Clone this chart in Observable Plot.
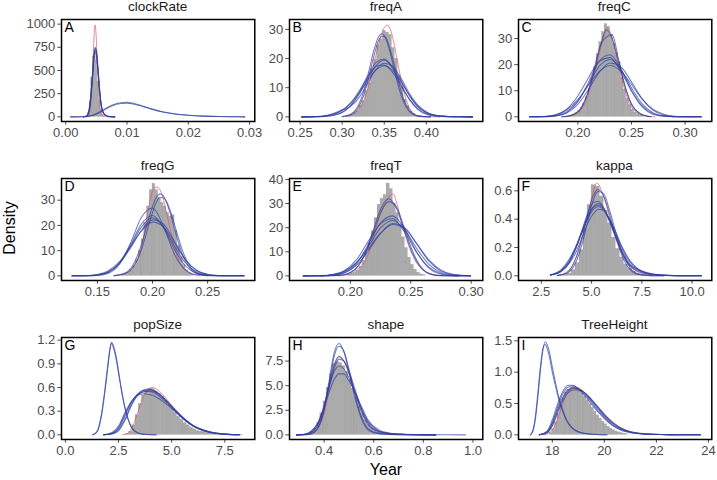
<!DOCTYPE html>
<html><head><meta charset="utf-8">
<script src="https://cdn.jsdelivr.net/npm/d3@7"></script>
<script src="https://cdn.jsdelivr.net/npm/@observablehq/plot@0.6"></script>
<style>
body{margin:0;background:#fff;}
#chart{position:relative;width:717px;height:480px;font-family:"Liberation Sans",Arial,Helvetica,sans-serif;overflow:hidden;}
#chart svg{position:absolute;overflow:visible;}
.title{position:absolute;font-size:13.5px;line-height:16px;color:#1a1a1a;text-align:center;}
.axt{position:absolute;font-size:16px;line-height:18px;color:#000;}
</style></head>
<body><div id="chart"></div>
<script>
// ---------- clockRate (A)
const clockRateHistLo = 0.0034, clockRateHistW = 0.00025;
const clockRateHist = [8, 40, 160, 420, 650, 710, 600, 380, 180, 70, 20, 5];
const clockRateRedX = [0.0033,0.0038,0.0041,0.0043,0.0045,0.0046,0.0047,0.0048,0.0049,0.0050,0.0052,0.0054,0.0056,0.0059,0.0064];
const clockRateRedY = [0,30,160,380,680,840,960,990,940,820,520,260,100,20,0];
const clockRateTallX = [0.0029,0.0034,0.0038,0.0041,0.0044,0.0046,0.0048,0.0050,0.0052,0.0055,0.0058,0.0062,0.0068,0.0074,0.0080];
const clockRateTall = [
  [0,6,60,210,470,650,740,700,560,300,120,35,6,1,0],
  [0,10,80,250,500,660,720,680,540,290,115,32,5,1,0],
  [0,5,50,190,440,630,750,720,590,320,130,38,7,1,0],
  [0,8,70,230,480,640,700,670,550,310,125,36,6,1,0]];
const clockRateWideX = [0.0008,0.0030,0.0045,0.0060,0.0075,0.0090,0.0100,0.0110,0.0125,0.0140,0.0160,0.0180,0.0200,0.0225,0.0250,0.0270,0.0292];
const clockRateWide = [
  [0,3,20,70,125,153,156,146,118,86,52,30,18,8,3,1,0],
  [0,2,17,64,117,143,146,138,112,82,50,29,17,8,3,1,0]];

// ---------- freqA (B)
const freqAHistLo = 0.3065, freqAHistW = 0.0035;
const freqAHist = [0.3,0.7,1.3,2.0,3.8,5.4,8.9,11.5,16.3,19.6,24.5,26.6,29.5,28.9,28.1,23.6,19.9,14.0,10.3,5.9,3.7,1.8,1.0,0.4,0.2,0.1,0.05];
const freqARedX = [0.305,0.315,0.322,0.328,0.334,0.340,0.346,0.350,0.354,0.358,0.362,0.367,0.372,0.378,0.385,0.395,0.416];
const freqARedY = [0.2,1.2,3.5,7.4,13.5,21,27.7,30.6,31.4,29.4,24.7,17.1,10.2,4.3,1.2,0.1,0];
const freqATallX = [0.300,0.310,0.318,0.325,0.332,0.338,0.343,0.347,0.351,0.356,0.362,0.368,0.375,0.383,0.392,0.405];
const freqATall = [
  [0.1,0.9,3.3,8.3,16.1,23.2,27.3,28.5,27.3,23.2,16.1,9.3,3.9,1.05,0.16,0],
  [0.05,0.6,2.6,6.9,14.0,21.2,26.0,27.6,27.5,24.2,17.8,10.8,4.8,1.4,0.25,0]];
const freqAWideX = [0.252,0.27,0.28,0.29,0.30,0.31,0.32,0.33,0.34,0.35,0.36,0.37,0.38,0.39,0.40,0.41,0.425,0.44,0.455];
const freqAWide = [
  [0,0.05,0.2,0.6,1.6,3.8,7.6,12.8,17.5,19.5,17.2,12.3,7.2,3.4,1.4,0.5,0.1,0.02,0],
  [0,0.08,0.3,0.9,2.2,4.8,8.8,13.6,17.3,17.8,15.2,10.6,6.0,2.8,1.1,0.4,0.08,0.01,0],
  [0,0.04,0.15,0.5,1.5,3.9,8.2,13.8,18.6,19.8,16.6,11.0,5.9,2.5,0.9,0.3,0.05,0.01,0],
  [0,0.1,0.4,1.2,2.4,3.6,6.6,11.4,16.2,18.4,17.4,13.2,8.0,4.0,1.7,0.6,0.15,0.03,0],
  [0,0.1,0.35,1.0,2.3,4.6,8.2,12.4,16.0,17.5,15.9,12.0,7.4,3.7,1.6,0.6,0.15,0.03,0]];

// ---------- freqC (C)
const freqCHistLo = 0.1925, freqCHistW = 0.0025;
const freqCHist = [0.4,0.7,1.3,2.2,3.3,5.0,7.5,10.6,14.5,19,24,28.6,32.5,35.5,34.5,31.5,28,24.5,21,15,10.5,7,4.5,2.8,1.6,0.9,0.5,0.2];
const freqCRedX = [0.1876,0.1953,0.2031,0.2093,0.2155,0.2217,0.2273,0.2310,0.2342,0.2404,0.2466,0.2528,0.262,0.272];
const freqCRedY = [0,0.5,2.8,7.8,16.7,26.8,34,31.5,26.5,15.5,6.8,2.3,0.5,0];
const freqCTallX = [0.185,0.195,0.203,0.209,0.215,0.221,0.2265,0.232,0.238,0.244,0.25,0.258,0.268];
const freqCTall = [
  [0,0.7,3.2,8.5,17,27,33.3,30,21,11.5,4.8,1.2,0],
  [0,0.8,3.5,9,18,27.5,30.5,31.5,22,12,5,1.3,0]];
const freqCWideX = [0.155,0.17,0.18,0.19,0.20,0.21,0.22,0.23,0.24,0.25,0.26,0.27,0.28,0.29,0.30,0.315];
const freqCWide = [
  [0,0.1,0.54,2.1,6.0,12.5,19.4,22,18.3,11.1,5.0,1.6,0.4,0.07,0.01,0],
  [0,0.05,0.35,1.7,5.8,13.3,21.3,23.8,18.5,10.0,3.8,1.0,0.2,0.03,0,0],
  [0,0.2,0.9,2.8,6.6,12.1,17.4,19.7,17.6,12.4,6.8,2.9,1.0,0.25,0.05,0],
  [0,0.15,0.8,3.0,8.0,15.0,21.3,22.7,17.5,10.0,4.2,1.3,0.3,0.05,0,0],
  [0,0.08,0.4,1.6,4.8,10.5,17.0,20.6,19.2,13.4,6.9,2.6,0.7,0.15,0.02,0]];

// ---------- freqG (D)
const freqGHistLo = 0.1725, freqGHistW = 0.0025;
const freqGHist = [0.3,0.6,1.2,2.2,3.8,6.2,10,14.5,21,27.5,34,36.5,34,31,29,27.5,25,23.5,24,18,12,7.5,4.2,2.2,1.0,0.4];
const freqGRedX = [0.165,0.173,0.178,0.1833,0.1894,0.193,0.1965,0.200,0.204,0.208,0.2136,0.2197,0.2235,0.2273,0.2348,0.243];
const freqGRedY = [0,0.5,1.6,3.8,10.3,18,27,33.5,35.3,33,23.4,11.6,6.5,3.7,1.0,0];
const freqGTallX = [0.165,0.175,0.182,0.188,0.193,0.198,0.203,0.207,0.211,0.216,0.221,0.227,0.233,0.240,0.250];
const freqGTall = [
  [0.1,1.1,4.1,9.9,17,24.9,30.8,32.5,30.8,24.9,17,8.6,3.5,0.9,0.07],
  [0.05,0.8,3.2,8.2,14.7,22.3,28.8,31.2,30.6,26,18.7,10.2,4.4,1.2,0.1]];
const freqGWideX = [0.127,0.14,0.15,0.16,0.17,0.18,0.19,0.20,0.21,0.22,0.23,0.24,0.25,0.26,0.27,0.283];
const freqGWide = [
  [0,0.05,0.34,1.5,5.1,11.7,19.4,23,19.4,11.7,5.1,1.5,0.34,0.05,0,0],
  [0,0.03,0.25,1.3,5.0,12.3,20.6,23.9,19,10.4,3.9,1.0,0.18,0.02,0,0],
  [0,0.1,0.55,2.0,5.6,11.6,17.8,21.3,19.4,12.9,6.3,2.2,0.6,0.12,0.02,0],
  [0,0.02,0.15,1.0,4.6,13.0,23.2,26.9,19.6,8.5,2.3,0.4,0.05,0,0,0],
  [0,0.06,0.4,1.6,4.9,11.0,18.1,22.2,20.5,13.6,6.4,2.1,0.5,0.08,0.01,0]];

// ---------- freqT (E)
const freqTHistLo = 0.1975, freqTHistW = 0.0025;
const freqTHist = [0.3,0.6,1.2,2.2,3.8,6.2,9.5,13.5,18.5,24,29.5,32,33.5,38.3,36,30,26,21,16,11.5,7.6,4.6,2.6,1.3,0.6,0.25];
const freqTRedX = [0.190,0.200,0.2065,0.2127,0.2170,0.2209,0.2245,0.2276,0.2315,0.2352,0.2385,0.2412,0.2466,0.2534,0.2615,0.2696,0.276];
const freqTRedY = [0,0.8,3.0,6.6,12,19,25,29,32.5,34,30,24.5,15,6.6,2,0.3,0];
const freqTTallX = [0.175,0.19,0.20,0.207,0.213,0.219,0.225,0.2317,0.238,0.244,0.25,0.257,0.265,0.275,0.29];
const freqTTall = [
  [0,0.12,1.3,4.5,10.4,19,27.6,32,28.2,19.8,11,4.2,0.9,0.1,0],
  [0,0.15,1.4,4.4,9.8,17.9,26.2,30.8,28.8,20.9,12.1,4.8,1.1,0.12,0]];
const freqTWideX = [0.161,0.175,0.185,0.195,0.205,0.215,0.225,0.235,0.245,0.255,0.265,0.275,0.285,0.2995];
const freqTWide = [
  [0,0.06,0.39,1.7,5.4,12.3,19.9,23,19.1,11.3,4.8,1.45,0.33,0.02],
  [0,0.03,0.25,1.3,5.0,13.2,22.0,24.9,19.4,9.8,3.2,0.7,0.1,0],
  [0,0.1,0.55,2.0,5.5,11.4,17.7,21.3,19.6,13.3,6.6,2.4,0.65,0.05],
  [0,0.07,0.5,2.1,6.6,14.5,21.6,23.7,18.1,9.6,3.6,0.95,0.18,0.01],
  [0,0.04,0.3,1.3,4.4,10.5,17.6,21.7,20.0,13.2,6.1,2.0,0.5,0.03]];

// ---------- kappa (F)
const kappaHistLo = 3.6, kappaHistW = 0.2;
const kappaHist = [0.005,0.015,0.04,0.09,0.18,0.33,0.50,0.64,0.63,0.56,0.46,0.37,0.27,0.19,0.13,0.08,0.05,0.03,0.015,0.008,0.003];
const kappaRedX = [3.3,3.8,4.03,4.36,4.69,5.02,5.27,5.6,6.02,6.43,6.85,7.26,7.68,8.0];
const kappaRedY = [0,0.02,0.066,0.18,0.35,0.56,0.654,0.56,0.35,0.18,0.077,0.03,0.008,0];
const kappaTallX = [3.3,3.8,4.2,4.5,4.8,5.05,5.32,5.6,5.9,6.2,6.5,6.9,7.4,8.0,8.6];
const kappaTall = [
  [0.003,0.03,0.118,0.255,0.43,0.554,0.61,0.563,0.432,0.276,0.146,0.047,0.007,0.001,0],
  [0.002,0.02,0.09,0.21,0.38,0.52,0.595,0.58,0.46,0.31,0.17,0.06,0.01,0.001,0]];
const kappaWideX = [2.95,3.5,3.9,4.2,4.5,4.8,5.1,5.35,5.6,5.9,6.2,6.5,6.9,7.3,7.8,8.5,9.5,10.46];
const kappaWide = [
  [0.005,0.035,0.1,0.185,0.294,0.41,0.483,0.5,0.47,0.389,0.285,0.185,0.085,0.04,0.015,0.005,0.001,0],
  [0.004,0.03,0.095,0.19,0.31,0.44,0.52,0.525,0.48,0.38,0.27,0.17,0.075,0.032,0.012,0.004,0.001,0],
  [0.006,0.035,0.09,0.16,0.26,0.37,0.44,0.47,0.46,0.4,0.31,0.21,0.11,0.05,0.02,0.006,0.001,0],
  [0.005,0.04,0.11,0.2,0.31,0.42,0.49,0.51,0.48,0.39,0.28,0.17,0.075,0.045,0.02,0.005,0.001,0],
  [0.007,0.045,0.12,0.2,0.3,0.4,0.47,0.49,0.465,0.395,0.3,0.2,0.1,0.045,0.015,0.004,0.001,0]];

// ---------- popSize (G)
const popSizeHistLo = 2.85, popSizeHistW = 0.15;
const popSizeHist = [0.01,0.04,0.12,0.25,0.39,0.5,0.56,0.58,0.58,0.55,0.52,0.48,0.43,0.38,0.33,0.28,0.23,0.19,0.15,0.12,0.09,0.07,0.05,0.04,0.03,0.02,0.015,0.01,0.006,0.004];
const popSizeRedX = [2.7,2.95,3.15,3.35,3.55,3.75,3.95,4.1,4.3,4.55,4.8,5.1,5.4,5.8,6.3,6.9,7.6,8.3];
const popSizeRedY = [0,0.02,0.1,0.24,0.4,0.52,0.59,0.6,0.58,0.52,0.44,0.34,0.25,0.15,0.07,0.03,0.01,0];
const popSizeTallX = [1.29,1.5,1.7,1.85,2.0,2.1,2.17,2.25,2.4,2.5,2.65,2.8,2.95,3.1,3.3,3.6,4.27];
const popSizeTall = [
  [0,0.04,0.24,0.52,0.86,1.08,1.175,1.14,0.98,0.81,0.56,0.35,0.2,0.1,0.04,0.01,0],
  [0,0.05,0.27,0.56,0.9,1.1,1.16,1.11,0.94,0.78,0.54,0.34,0.2,0.1,0.04,0.01,0]];
const popSizeWideX = [1.8,2.2,2.5,2.8,3.1,3.4,3.7,3.95,4.2,4.5,4.8,5.1,5.5,6.0,6.5,7.0,7.6,8.18];
const popSizeWide = [
  [0,0.02,0.08,0.24,0.41,0.52,0.565,0.57,0.55,0.49,0.41,0.32,0.21,0.11,0.05,0.02,0.006,0],
  [0,0.01,0.05,0.18,0.37,0.51,0.57,0.58,0.56,0.5,0.42,0.33,0.22,0.115,0.055,0.02,0.006,0],
  [0,0.03,0.11,0.28,0.42,0.5,0.52,0.51,0.49,0.44,0.38,0.31,0.22,0.12,0.06,0.025,0.008,0],
  [0,0.015,0.06,0.2,0.38,0.5,0.55,0.56,0.55,0.5,0.42,0.34,0.23,0.12,0.055,0.022,0.007,0],
  [0,0.02,0.09,0.26,0.42,0.51,0.545,0.55,0.53,0.47,0.4,0.32,0.22,0.12,0.06,0.024,0.008,0]];

// ---------- shape (H)
const shapeHistLo = 0.335, shapeHistW = 0.0125;
const shapeHist = [0.1,0.3,0.6,1.2,2.2,3.4,4.8,6.2,7.2,7.4,7.3,7.0,6.4,5.6,4.7,3.8,2.9,2.1,1.5,1.0,0.65,0.4,0.25,0.15,0.08,0.04];
const shapeRedX = [0.31,0.35,0.38,0.40,0.42,0.44,0.46,0.48,0.50,0.53,0.56,0.60,0.65,0.72,0.80];
const shapeRedY = [0,0.2,0.9,2.2,4.7,6.9,7.9,7.5,6.2,3.8,1.9,0.6,0.2,0.05,0];
const shapeBlueX = [0.289,0.32,0.345,0.37,0.395,0.42,0.44,0.46,0.48,0.5,0.525,0.55,0.58,0.62,0.66,0.71,0.77,0.85];
const shapeBlue = [
  [0,0.01,0.07,0.5,2.1,5.5,8.3,9.3,8.4,6.4,3.7,1.65,0.45,0.12,0.05,0.02,0.01,0],
  [0,0.01,0.08,0.5,2.0,5.1,7.9,9.0,8.5,6.7,4.0,1.9,0.55,0.15,0.06,0.02,0.01,0],
  [0,0.03,0.19,0.81,2.4,5.1,7.1,8,7.5,6.3,4.3,2.4,0.94,0.3,0.12,0.05,0.02,0],
  [0,0.03,0.2,0.8,2.3,4.8,6.7,7.7,7.5,6.5,4.6,2.7,1.1,0.35,0.14,0.06,0.02,0],
  [0,0.06,0.3,1.0,2.6,4.9,6.4,7.0,6.7,5.8,4.3,2.7,1.25,0.4,0.15,0.06,0.02,0]];
const shapeLongX = [0.289,0.32,0.345,0.37,0.395,0.42,0.44,0.46,0.48,0.5,0.525,0.55,0.58,0.62,0.66,0.71,0.77,0.85,0.97];
const shapeLong = [
  [0,0.07,0.33,1.0,2.4,4.3,5.6,6.2,6.2,5.5,4.3,2.9,1.4,0.5,0.2,0.08,0.03,0.01,0]];

// ---------- TreeHeight (I)
const treeHeightHistLo = 17.9, treeHeightHistW = 0.1;
const treeHeightHist = [0.03,0.09,0.2,0.33,0.47,0.58,0.67,0.72,0.75,0.76,0.74,0.71,0.66,0.61,0.55,0.49,0.43,0.37,0.31,0.26,0.21,0.17,0.13,0.1,0.075,0.055,0.04,0.028,0.02,0.013];
const treeHeightRedX = [17.7,18.0,18.2,18.4,18.6,18.8,19.0,19.2,19.4,19.7,20.0,20.4,20.8,21.3,22.0,22.7];
const treeHeightRedY = [0,0.08,0.25,0.5,0.68,0.76,0.75,0.69,0.6,0.45,0.31,0.17,0.08,0.03,0.008,0];
const treeHeightTallX = [17.15,17.25,17.35,17.45,17.55,17.63,17.72,17.8,17.9,18.0,18.12,18.25,18.4,18.55,18.75,19.0,19.4,20.1];
const treeHeightTall = [
  [0,0.05,0.25,0.62,1.05,1.33,1.48,1.44,1.3,1.08,0.84,0.6,0.4,0.24,0.12,0.05,0.015,0],
  [0,0.07,0.3,0.7,1.12,1.36,1.44,1.38,1.22,1.0,0.78,0.56,0.37,0.22,0.11,0.045,0.013,0]];
const treeHeightWideX = [17.5,17.8,18.0,18.2,18.4,18.6,18.8,19.0,19.25,19.5,19.75,20.0,20.3,20.6,21.0,21.5,22.2,23.0,23.7];
const treeHeightWide = [
  [0,0.04,0.18,0.4,0.6,0.72,0.75,0.73,0.66,0.54,0.42,0.3,0.18,0.1,0.04,0.015,0.005,0.001,0],
  [0,0.06,0.24,0.49,0.69,0.79,0.79,0.73,0.62,0.49,0.37,0.26,0.15,0.08,0.035,0.012,0.004,0.001,0],
  [0,0.03,0.14,0.34,0.54,0.67,0.715,0.715,0.67,0.57,0.45,0.33,0.21,0.12,0.05,0.018,0.006,0.001,0],
  [0,0.035,0.16,0.37,0.57,0.7,0.74,0.73,0.67,0.56,0.44,0.32,0.19,0.11,0.045,0.016,0.005,0.001,0],
  [0,0.05,0.2,0.44,0.65,0.76,0.78,0.74,0.64,0.52,0.39,0.28,0.16,0.09,0.04,0.014,0.004,0.001,0]];

// ---------- panel definitions (titles, letters, ticks)
const titles = ["clockRate","freqA","freqC","freqG","freqT","kappa","popSize","shape","TreeHeight"];
const letters = ["A","B","C","D","E","F","G","H","I"];
const f2 = d3.format(".2f"), f1 = d3.format(".1f"), f0 = d3.format("d");

const panels = [
  {xDomain:[-0.00069,0.03085], yDomain:[-50,1050], xTicks:[0,0.01,0.02,0.03], xFmt:f2, yTicks:[0,250,500,750,1000], yFmt:f0,
   histLo:clockRateHistLo, histW:clockRateHistW, hist:clockRateHist, redX:clockRateRedX, redY:clockRateRedY,
   blues:[{x:clockRateTallX, ys:clockRateTall},{x:clockRateWideX, ys:clockRateWide}]},
  {xDomain:[0.2374,0.4671], yDomain:[-1.59,33.4], xTicks:[0.25,0.30,0.35,0.40], xFmt:f2, yTicks:[0,10,20,30], yFmt:f0,
   histLo:freqAHistLo, histW:freqAHistW, hist:freqAHist, redX:freqARedX, redY:freqARedY,
   blues:[{x:freqATallX, ys:freqATall},{x:freqAWideX, ys:freqAWide}]},
  {xDomain:[0.1447,0.3249], yDomain:[-1.78,37.3], xTicks:[0.20,0.25,0.30], xFmt:f2, yTicks:[0,10,20,30], yFmt:f0,
   histLo:freqCHistLo, histW:freqCHistW, hist:freqCHist, redX:freqCRedX, redY:freqCRedY,
   blues:[{x:freqCTallX, ys:freqCTall},{x:freqCWideX, ys:freqCWide}]},
  {xDomain:[0.1174,0.2928], yDomain:[-1.84,38.6], xTicks:[0.15,0.20,0.25], xFmt:f2, yTicks:[0,10,20,30], yFmt:f0,
   histLo:freqGHistLo, histW:freqGHistW, hist:freqGHist, redX:freqGRedX, redY:freqGRedY,
   blues:[{x:freqGTallX, ys:freqGTall},{x:freqGWideX, ys:freqGWide}]},
  {xDomain:[0.1496,0.3096], yDomain:[-1.92,40.4], xTicks:[0.20,0.25,0.30], xFmt:f2, yTicks:[0,10,20,30,40], yFmt:f0,
   histLo:freqTHistLo, histW:freqTHistW, hist:freqTHist, redX:freqTRedX, redY:freqTRedY,
   blues:[{x:freqTTallX, ys:freqTTall},{x:freqTWideX, ys:freqTWide}]},
  {xDomain:[1.365,10.98], yDomain:[-0.033,0.687], xTicks:[2.5,5.0,7.5,10.0], xFmt:f1, yTicks:[0,0.2,0.4,0.6], yFmt:f1,
   histLo:kappaHistLo, histW:kappaHistW, hist:kappaHist, redX:kappaRedX, redY:kappaRedY,
   blues:[{x:kappaTallX, ys:kappaTall},{x:kappaWideX, ys:kappaWide}]},
  {xDomain:[-0.182,8.91], yDomain:[-0.059,1.234], xTicks:[0,2.5,5.0,7.5], xFmt:f1, yTicks:[0,0.3,0.6,0.9,1.2], yFmt:f1,
   histLo:popSizeHistLo, histW:popSizeHistW, hist:popSizeHist, redX:popSizeRedX, redY:popSizeRedY,
   blues:[{x:popSizeTallX, ys:popSizeTall},{x:popSizeWideX, ys:popSizeWide}]},
  {xDomain:[0.2605,1.0395], yDomain:[-0.47,9.9], xTicks:[0.4,0.6,0.8,1.0], xFmt:f1, yTicks:[0,2.5,5.0,7.5], yFmt:f1,
   histLo:shapeHistLo, histW:shapeHistW, hist:shapeHist, redX:shapeRedX, redY:shapeRedY,
   blues:[{x:shapeBlueX, ys:shapeBlue},{x:shapeLongX, ys:shapeLong}]},
  {xDomain:[16.70,24.13], yDomain:[-0.074,1.553], xTicks:[18,20,22,24], xFmt:f0, yTicks:[0,0.5,1.0,1.5], yFmt:f1,
   histLo:treeHeightHistLo, histW:treeHeightHistW, hist:treeHeightHist, redX:treeHeightRedX, redY:treeHeightRedY,
   blues:[{x:treeHeightTallX, ys:treeHeightTall},{x:treeHeightWideX, ys:treeHeightWide}]}
];

// ---------- layout
const PW = 193.3, PH = 102;
const colLeft = [61, 289.3, 517.7];
const rowTop = [19, 178, 337];
const ML = 50, MR = 20, MT = 8, MB = 26;
const chart = document.getElementById("chart");
const FONT = '"Liberation Sans", Arial, Helvetica, sans-serif';

panels.forEach((p, i) => {
  const col = i % 3, row = Math.floor(i / 3);
  const hist = p.hist.map((h, k) => ({x1: p.histLo + k * p.histW, x2: p.histLo + (k + 1) * p.histW, y: h}));
  const red = p.redX.map((x, k) => ({x, y: p.redY[k]}));
  const blues = [];
  p.blues.forEach((g, gi) => g.ys.forEach((ys, j) => ys.forEach((y, k) => blues.push({x: g.x[k], y, id: gi + "-" + j}))));
  const svg = Plot.plot({
    width: ML + PW + MR, height: MT + PH + MB,
    marginLeft: ML, marginRight: MR, marginTop: MT, marginBottom: MB,
    style: {fontFamily: FONT, fontSize: "13px", color: "#4d4d4d", background: "transparent", overflow: "visible"},
    x: {domain: p.xDomain, ticks: p.xTicks, tickFormat: p.xFmt, tickSize: 3.7, tickPadding: 2.5, label: null},
    y: {domain: p.yDomain, ticks: p.yTicks, tickFormat: p.yFmt, tickSize: 3.7, tickPadding: 2.5, label: null},
    marks: [
      Plot.rectY(hist, {x1: "x1", x2: "x2", y: "y", fill: "#aaaaaa", stroke: "#989898", strokeWidth: 0.3}),
      Plot.line(red, {x: "x", y: "y", stroke: "#e5505b", strokeWidth: 0.9, strokeOpacity: 0.75, curve: "monotone-x"}),
      Plot.line(blues, {x: "x", y: "y", z: "id", stroke: "#2f40a0", strokeWidth: 1.05, strokeOpacity: 0.68, curve: "monotone-x"}),
      Plot.frame({stroke: "black", strokeWidth: 1.5}),
      Plot.text([letters[i]], {frameAnchor: "top-left", text: d => d, dx: 3, dy: 3, fill: "black", fontSize: 14, textAnchor: "start", lineAnchor: "top"})
    ]
  });
  svg.style.left = (colLeft[col] - ML) + "px";
  svg.style.top = (rowTop[row] - MT) + "px";
  chart.appendChild(svg);

  const t = document.createElement("div");
  t.className = "title";
  t.textContent = titles[i];
  t.style.left = colLeft[col] + "px";
  t.style.width = PW + "px";
  t.style.top = (rowTop[row] - 20.5) + "px";
  chart.appendChild(t);
});

const yl = document.createElement("div");
yl.className = "axt";
yl.textContent = "Density";
yl.style.left = "10px"; yl.style.top = "228px";
yl.style.transform = "translate(-50%,-50%) rotate(-90deg)";
chart.appendChild(yl);

const xl = document.createElement("div");
xl.className = "axt";
xl.textContent = "Year";
xl.style.left = "386px"; xl.style.top = "470px";
xl.style.transform = "translate(-50%,-50%)";
chart.appendChild(xl);
</script></body></html>
